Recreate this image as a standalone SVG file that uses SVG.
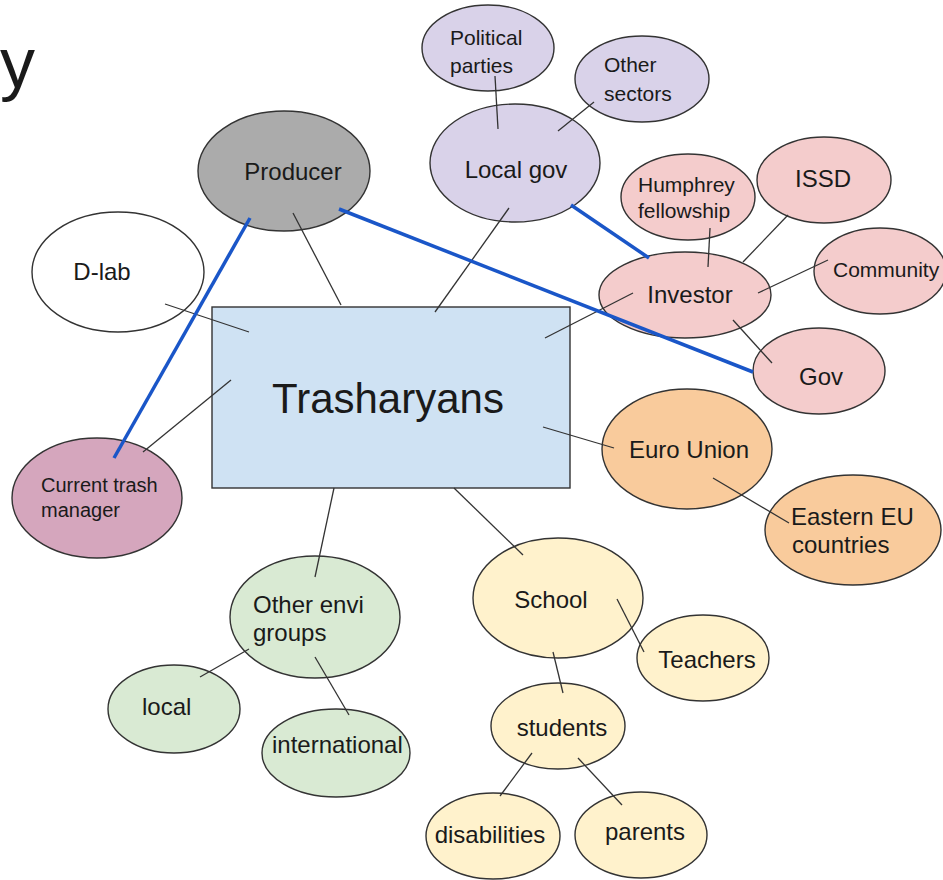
<svg xmlns="http://www.w3.org/2000/svg" width="943" height="880" viewBox="0 0 943 880">
<style>
text{font-family:"Liberation Sans",Arial,sans-serif;fill:#1a1a1a;font-size:24px}
.c{text-anchor:middle}
.s{font-size:21px}
ellipse,rect{stroke:#333;stroke-width:1.4}
.ln{stroke:#333;stroke-width:1.3;fill:none}
.bl{stroke:#1a56c8;stroke-width:3.5;fill:none}
.gray{fill:#ababab}.white{fill:#fff}.purple{fill:#d9d2e9}.pink{fill:#f4cccc}
.orange{fill:#f9cb9c}.green{fill:#d9ead3}.yellow{fill:#fff2cc}.mauve{fill:#d5a6bd}
</style>
<rect x="0" y="0" width="943" height="880" fill="#fff" style="stroke:none"/>
<text x="0" y="87" style="font-size:70px">y</text>
<g id="trasharyans"><rect x="212" y="307" width="358" height="181" fill="#cfe2f3"/><text class="c" x="388" y="413" style="font-size:42px">Trasharyans</text></g>
<g id="producer"><ellipse class="gray" cx="284" cy="171" rx="86" ry="60"/><text class="c" x="293" y="180">Producer</text></g>
<g id="dlab"><ellipse class="white" cx="118" cy="272" rx="86" ry="60"/><text class="c" x="102" y="280">D-lab</text></g>
<g id="political"><ellipse class="purple" cx="488" cy="48" rx="66" ry="43"/><text class="s" x="450" y="45">Political</text><text class="s" x="450" y="73">parties</text></g>
<g id="othersectors"><ellipse class="purple" cx="642" cy="79" rx="67" ry="43"/><text class="s" x="604" y="72">Other</text><text class="s" x="604" y="101">sectors</text></g>
<g id="localgov"><ellipse class="purple" cx="515" cy="163" rx="85" ry="59"/><text class="c" x="516" y="178">Local gov</text></g>
<g id="humphrey"><ellipse class="pink" cx="688" cy="197" rx="67" ry="43"/><text class="s" x="638" y="192">Humphrey</text><text class="s" x="638" y="218">fellowship</text></g>
<g id="issd"><ellipse class="pink" cx="824" cy="180" rx="67" ry="43"/><text class="c" x="823" y="187">ISSD</text></g>
<g id="community"><ellipse class="pink" cx="880" cy="271" rx="66" ry="43"/><text class="s" x="833" y="277">Community</text></g>
<g id="investor"><ellipse class="pink" cx="685" cy="295" rx="86" ry="43"/><text class="c" x="690" y="303">Investor</text></g>
<g id="gov"><ellipse class="pink" cx="819" cy="371" rx="66" ry="43"/><text class="c" x="821" y="385">Gov</text></g>
<g id="eurounion"><ellipse class="orange" cx="687" cy="449" rx="85" ry="60"/><text class="c" x="689" y="458">Euro Union</text></g>
<g id="eastern"><ellipse class="orange" cx="853" cy="530" rx="88" ry="55"/><text x="791" y="525">Eastern EU</text><text x="792" y="553">countries</text></g>
<g id="trashmanager"><ellipse class="mauve" cx="97" cy="498" rx="85" ry="60"/><text class="s" x="41" y="492" style="font-size:20px">Current trash</text><text class="s" x="41" y="517" style="font-size:20px">manager</text></g>
<g id="otherenvi"><ellipse class="green" cx="315" cy="617" rx="85" ry="61"/><text x="253" y="613">Other envi</text><text x="253" y="641">groups</text></g>
<g id="local"><ellipse class="green" cx="174" cy="709" rx="66" ry="44"/><text x="142" y="715">local</text></g>
<g id="international"><ellipse class="green" cx="336" cy="753" rx="74" ry="44"/><text x="272" y="753">international</text></g>
<g id="school"><ellipse class="yellow" cx="558" cy="598" rx="85" ry="60"/><text class="c" x="551" y="608">School</text></g>
<g id="teachers"><ellipse class="yellow" cx="703" cy="658" rx="66" ry="43"/><text class="c" x="707" y="668">Teachers</text></g>
<g id="students"><ellipse class="yellow" cx="558" cy="726" rx="67" ry="43"/><text class="c" x="562" y="736">students</text></g>
<g id="disabilities"><ellipse class="yellow" cx="493" cy="836" rx="67" ry="43"/><text class="c" x="490" y="843">disabilities</text></g>
<g id="parents"><ellipse class="yellow" cx="641" cy="835" rx="66" ry="43"/><text class="c" x="645" y="840">parents</text></g>
<g id="connectors">
<line class="ln" x1="293" y1="213" x2="341" y2="305"/>
<line class="ln" x1="165" y1="304" x2="249" y2="332"/>
<line class="ln" x1="495" y1="76" x2="498" y2="129"/>
<line class="ln" x1="594" y1="102" x2="558" y2="131"/>
<line class="ln" x1="509" y1="208" x2="435" y2="312"/>
<line class="ln" x1="710" y1="228" x2="708" y2="267"/>
<line class="ln" x1="788" y1="215" x2="743" y2="262"/>
<line class="ln" x1="828" y1="260" x2="758" y2="293"/>
<line class="ln" x1="633" y1="293" x2="545" y2="338"/>
<line class="ln" x1="733" y1="320" x2="772" y2="363"/>
<line class="ln" x1="543" y1="427" x2="614" y2="448"/>
<line class="ln" x1="713" y1="478" x2="789" y2="523"/>
<line class="ln" x1="231" y1="380" x2="143" y2="452"/>
<line class="ln" x1="334" y1="488" x2="315" y2="577"/>
<line class="ln" x1="454" y1="488" x2="523" y2="555"/>
<line class="ln" x1="249" y1="649" x2="200" y2="677"/>
<line class="ln" x1="315" y1="657" x2="349" y2="715"/>
<line class="ln" x1="617" y1="599" x2="644" y2="652"/>
<line class="ln" x1="553" y1="652" x2="563" y2="693"/>
<line class="ln" x1="532" y1="753" x2="500" y2="796"/>
<line class="ln" x1="578" y1="758" x2="622" y2="805"/>
<line class="bl" x1="250" y1="218" x2="114" y2="458"/>
<line class="bl" x1="339" y1="209" x2="753" y2="372"/>
<line class="bl" x1="571" y1="205" x2="649" y2="258"/>
</g>
</svg>
